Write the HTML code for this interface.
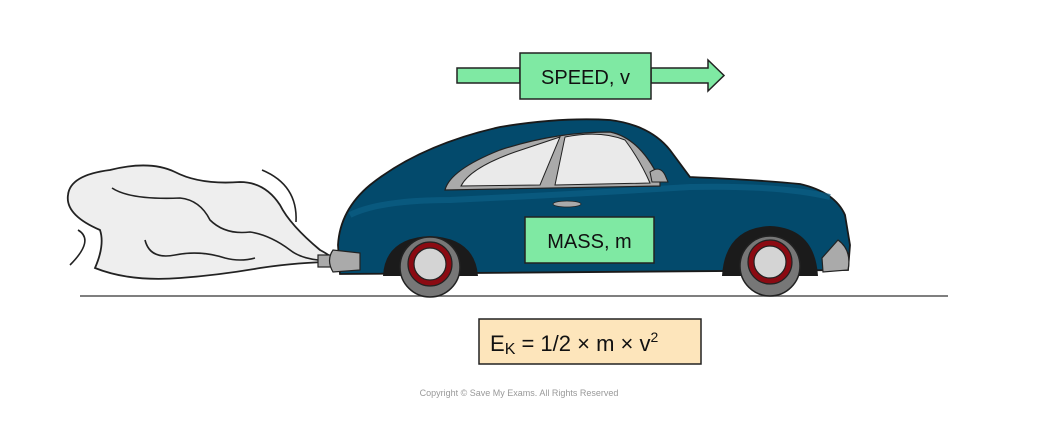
<!DOCTYPE html>
<html><head><meta charset="utf-8"><style>
html,body{margin:0;padding:0;background:#fff;}
svg{display:block}
text{font-family:"Liberation Sans",sans-serif;}
</style></head><body>
<svg width="1039" height="430" viewBox="0 0 1039 430" xmlns="http://www.w3.org/2000/svg">
<rect width="1039" height="430" fill="#fff"/>
<!-- smoke -->
<path d="M68,195 Q70,175 110,170 Q150,160 175,172 Q200,185 240,182 Q265,182 280,205 Q290,225 320,250 Q335,258 335,262 Q300,262 260,268 Q220,275 180,278 Q130,282 95,268 Q105,245 100,230 Q65,215 68,195 Z" fill="#eeeeee" stroke="#222" stroke-width="1.8"/>
<path d="M112,188 Q130,200 180,198 Q200,200 210,220 Q225,235 250,232 Q270,235 290,250 Q300,258 318,260" fill="none" stroke="#222" stroke-width="1.6"/>
<path d="M145,240 Q150,260 175,255 Q200,250 225,258 Q240,262 255,258" fill="none" stroke="#222" stroke-width="1.6"/>
<path d="M262,170 Q298,185 296,222" fill="none" stroke="#222" stroke-width="1.6"/>
<path d="M78,230 Q95,240 70,265" fill="none" stroke="#222" stroke-width="1.6"/>
<!-- exhaust -->
<rect x="318" y="255" width="30" height="12" fill="#aaa" stroke="#222" stroke-width="1.2"/>
<!-- ground -->
<line x1="80" y1="296" x2="948" y2="296" stroke="#555" stroke-width="1.5"/>
<!-- car body -->
<path d="M340,274 L338,245 Q340,210 370,185 Q420,145 500,127 Q560,117 610,120 Q650,125 670,150 L690,177 Q760,180 800,184 Q835,192 845,215 L850,245 L848,270 L340,274 Z" fill="#034a6c" stroke="#1a1a1a" stroke-width="1.8"/>
<path d="M350,215 Q380,200 450,200 Q560,195 690,187 Q780,185 830,197" fill="none" stroke="#0d5f86" stroke-width="6" opacity="0.7"/>
<!-- wheel arches -->
<path d="M383,276 Q385,238 430,236 Q475,238 478,276 Z" fill="#1b1b1b"/>
<path d="M722,276 Q725,228 770,226 Q815,228 818,276 Z" fill="#1b1b1b"/>
<!-- wheels -->
<circle cx="430" cy="267" r="30" fill="#777" stroke="#222" stroke-width="1.5"/>
<circle cx="430" cy="264" r="22" fill="#8b0a12" stroke="#222" stroke-width="1.2"/>
<circle cx="430" cy="264" r="16" fill="#d4d4d4" stroke="#222" stroke-width="1.2"/>
<circle cx="770" cy="266" r="30" fill="#777" stroke="#222" stroke-width="1.5"/>
<circle cx="770" cy="262" r="22" fill="#8b0a12" stroke="#222" stroke-width="1.2"/>
<circle cx="770" cy="262" r="16" fill="#d4d4d4" stroke="#222" stroke-width="1.2"/>
<!-- bumpers -->
<path d="M333,250 Q326,260 333,272 L360,270 L360,253 Z" fill="#aaa" stroke="#222" stroke-width="1.2"/>
<path d="M838,240 Q852,250 848,270 L823,272 L822,258 Z" fill="#aaa" stroke="#222" stroke-width="1.2"/>
<!-- windows -->
<path d="M445,190 Q450,170 500,150 Q555,132 610,132 Q640,138 660,180 L660,186 Z" fill="#aaa" stroke="#222" stroke-width="1.2"/>
<path d="M461,186 Q470,168 515,152 Q545,142 560,137 L540,185 Z" fill="#eaeaea" stroke="#222" stroke-width="1"/>
<path d="M565,137 Q600,130 625,140 Q640,160 650,183 L555,185 Z" fill="#eaeaea" stroke="#222" stroke-width="1"/>
<path d="M650,172 Q660,165 665,175 L668,182 L652,182 Z" fill="#aaa" stroke="#222" stroke-width="1"/>
<ellipse cx="567" cy="204" rx="14" ry="3" fill="#aaa" stroke="#222" stroke-width="0.8"/>
<!-- mass box -->
<rect x="525" y="217" width="129" height="46" fill="#7fe9a3" stroke="#222" stroke-width="1.5"/>
<text x="589.5" y="248" font-size="20" text-anchor="middle" fill="#111">MASS, m</text>
<!-- speed arrow -->
<rect x="457" y="68" width="63" height="15" fill="#7fe9a3" stroke="#222" stroke-width="1.5"/>
<path d="M651,68 L708,68 L708,60 L724,75.5 L708,91 L708,83 L651,83 Z" fill="#7fe9a3" stroke="#222" stroke-width="1.5"/>
<rect x="520" y="53" width="131" height="46" fill="#7fe9a3" stroke="#222" stroke-width="1.5"/>
<text x="585.5" y="84" font-size="20" text-anchor="middle" fill="#111">SPEED, v</text>
<!-- formula -->
<rect x="479" y="319" width="222" height="45" fill="#fde5bb" stroke="#222" stroke-width="1.5"/>
<text x="490" y="351" font-size="22" fill="#111">E<tspan font-size="16" dy="3">K</tspan><tspan dy="-3"> = 1/2 × m × v</tspan><tspan font-size="14" dy="-9">2</tspan></text>
<text x="519" y="396" font-size="9" text-anchor="middle" fill="#999">Copyright © Save My Exams. All Rights Reserved</text>
</svg>
</body></html>
